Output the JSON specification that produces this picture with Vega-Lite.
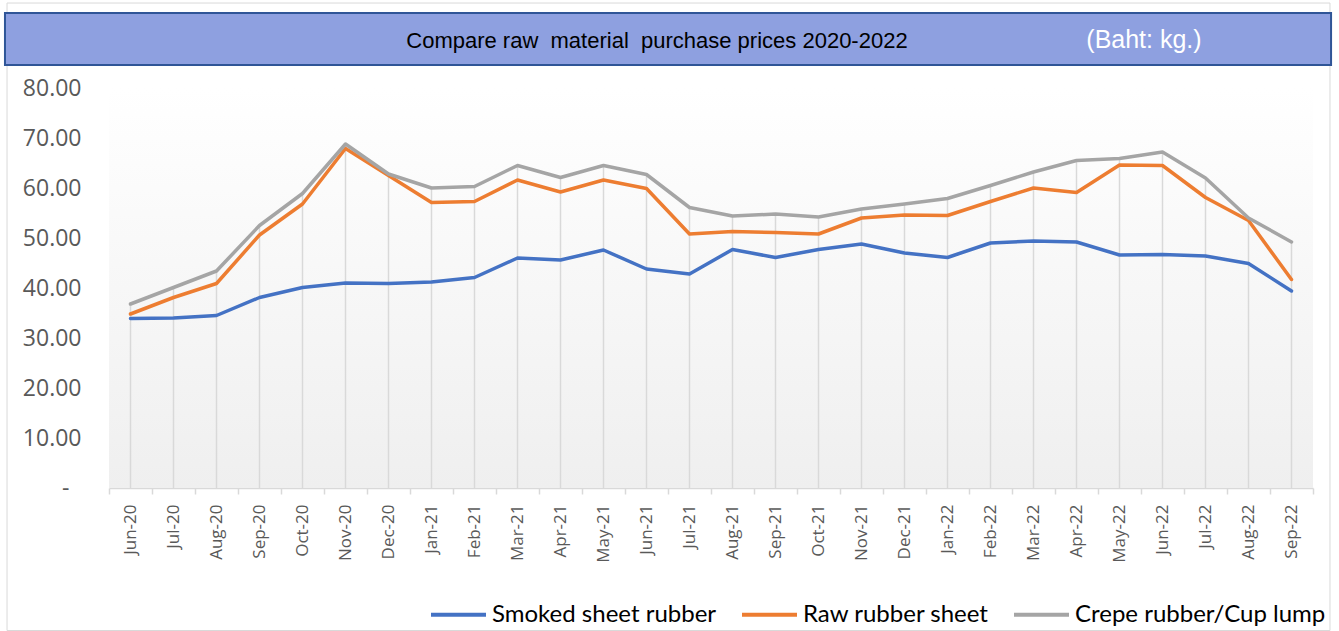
{
  "$schema": "https://vega.github.io/schema/vega-lite/v6.json",
  "padding": {"left": 3, "top": 2, "right": 0, "bottom": 0},
  "background": "white",
  "bounds": "flush",
  "spacing": 23,
  "config": {
    "view": {"stroke": null},
    "axisY": {"labelFont": "Open Sans", "labelFontSize": 23, "labelColor": "#595959", "ticks": false, "domain": false, "grid": false, "title": null, "minExtent": 104},
    "axisX": {"labelFont": "Open Sans", "labelFontSize": 17, "labelColor": "#595959", "labelAngle": 270, "domainColor": "#d9d9d9", "domainWidth": 1.5, "tickColor": "#d9d9d9", "tickSize": 6, "tickWidth": 1.5, "tickBand": "extent", "labelPadding": 10, "grid": false, "title": null},
    "legend": {"labelFont": "Lato", "labelFontSize": 24, "labelColor": "black", "labelLimit": 0, "symbolType": "stroke", "symbolStrokeWidth": 4, "symbolSize": 3025, "columnPadding": 17, "labelOffset": 4}
  },
  "vconcat": [
    {
      "width": 1204,
      "height": 52,
      "data": {"values": [{}]},
      "layer": [
        {
          "mark": {"type": "rect", "fill": null, "fillOpacity": 0, "stroke": "#d9d9d9", "strokeWidth": 1, "clip": false},
          "encoding": {
            "x": {"datum": -0.0847, "type": "quantitative", "scale": {"domain": [0, 1]}, "axis": null},
            "x2": {"datum": 1.0141},
            "y": {"datum": 1.192, "type": "quantitative", "scale": {"domain": [0, 1]}, "axis": null},
            "y2": {"datum": -10.875}
          }
        },
        {
          "mark": {"type": "rect", "fill": "#8EA0E0", "stroke": "#2F5597", "strokeWidth": 2, "clip": false},
          "encoding": {
            "x": {"datum": -0.0864, "type": "quantitative"},
            "x2": {"datum": 1.015},
            "y": {"datum": 0, "type": "quantitative"},
            "y2": {"datum": 1}
          }
        },
        {
          "mark": {"type": "text", "font": "Liberation Sans", "fontSize": 22, "color": "black", "align": "center", "baseline": "middle"},
          "encoding": {
            "x": {"datum": 0.4551, "type": "quantitative"},
            "y": {"datum": 0.46, "type": "quantitative"},
            "text": {"value": "Compare raw\u00a0 material\u00a0 purchase prices 2020-2022"}
          }
        },
        {
          "mark": {"type": "text", "font": "Liberation Sans", "fontSize": 25, "color": "white", "align": "center", "baseline": "middle"},
          "encoding": {
            "x": {"datum": 0.8596, "type": "quantitative"},
            "y": {"datum": 0.48, "type": "quantitative"},
            "text": {"value": "(Baht: kg.)"}
          }
        }
      ]
    },
    {
      "width": 1204,
      "height": 400,
      "data": {"values": [
        {"month": "Jun-20", "Smoked sheet rubber": 33.9, "Raw rubber sheet": 34.8, "Crepe rubber/Cup lump": 36.8},
        {"month": "Jul-20", "Smoked sheet rubber": 34.0, "Raw rubber sheet": 38.1, "Crepe rubber/Cup lump": 40.1},
        {"month": "Aug-20", "Smoked sheet rubber": 34.5, "Raw rubber sheet": 40.9, "Crepe rubber/Cup lump": 43.4},
        {"month": "Sep-20", "Smoked sheet rubber": 38.1, "Raw rubber sheet": 50.6, "Crepe rubber/Cup lump": 52.5},
        {"month": "Oct-20", "Smoked sheet rubber": 40.1, "Raw rubber sheet": 56.8, "Crepe rubber/Cup lump": 58.9},
        {"month": "Nov-20", "Smoked sheet rubber": 41.0, "Raw rubber sheet": 67.9, "Crepe rubber/Cup lump": 68.8},
        {"month": "Dec-20", "Smoked sheet rubber": 40.9, "Raw rubber sheet": 62.5, "Crepe rubber/Cup lump": 62.8},
        {"month": "Jan-21", "Smoked sheet rubber": 41.2, "Raw rubber sheet": 57.1, "Crepe rubber/Cup lump": 60.0},
        {"month": "Feb-21", "Smoked sheet rubber": 42.1, "Raw rubber sheet": 57.3, "Crepe rubber/Cup lump": 60.3},
        {"month": "Mar-21", "Smoked sheet rubber": 46.0, "Raw rubber sheet": 61.6, "Crepe rubber/Cup lump": 64.5},
        {"month": "Apr-21", "Smoked sheet rubber": 45.6, "Raw rubber sheet": 59.2, "Crepe rubber/Cup lump": 62.1},
        {"month": "May-21", "Smoked sheet rubber": 47.6, "Raw rubber sheet": 61.6, "Crepe rubber/Cup lump": 64.5},
        {"month": "Jun-21", "Smoked sheet rubber": 43.8, "Raw rubber sheet": 59.9, "Crepe rubber/Cup lump": 62.7},
        {"month": "Jul-21", "Smoked sheet rubber": 42.8, "Raw rubber sheet": 50.8, "Crepe rubber/Cup lump": 56.1},
        {"month": "Aug-21", "Smoked sheet rubber": 47.7, "Raw rubber sheet": 51.3, "Crepe rubber/Cup lump": 54.4},
        {"month": "Sep-21", "Smoked sheet rubber": 46.1, "Raw rubber sheet": 51.1, "Crepe rubber/Cup lump": 54.8},
        {"month": "Oct-21", "Smoked sheet rubber": 47.7, "Raw rubber sheet": 50.8, "Crepe rubber/Cup lump": 54.2},
        {"month": "Nov-21", "Smoked sheet rubber": 48.8, "Raw rubber sheet": 54.0, "Crepe rubber/Cup lump": 55.8},
        {"month": "Dec-21", "Smoked sheet rubber": 47.0, "Raw rubber sheet": 54.6, "Crepe rubber/Cup lump": 56.8},
        {"month": "Jan-22", "Smoked sheet rubber": 46.1, "Raw rubber sheet": 54.5, "Crepe rubber/Cup lump": 57.9},
        {"month": "Feb-22", "Smoked sheet rubber": 49.0, "Raw rubber sheet": 57.3, "Crepe rubber/Cup lump": 60.5},
        {"month": "Mar-22", "Smoked sheet rubber": 49.4, "Raw rubber sheet": 60.0, "Crepe rubber/Cup lump": 63.2},
        {"month": "Apr-22", "Smoked sheet rubber": 49.2, "Raw rubber sheet": 59.1, "Crepe rubber/Cup lump": 65.5},
        {"month": "May-22", "Smoked sheet rubber": 46.6, "Raw rubber sheet": 64.6, "Crepe rubber/Cup lump": 65.9},
        {"month": "Jun-22", "Smoked sheet rubber": 46.7, "Raw rubber sheet": 64.5, "Crepe rubber/Cup lump": 67.2},
        {"month": "Jul-22", "Smoked sheet rubber": 46.4, "Raw rubber sheet": 58.1, "Crepe rubber/Cup lump": 62.0},
        {"month": "Aug-22", "Smoked sheet rubber": 44.9, "Raw rubber sheet": 53.5, "Crepe rubber/Cup lump": 54.0},
        {"month": "Sep-22", "Smoked sheet rubber": 39.4, "Raw rubber sheet": 41.7, "Crepe rubber/Cup lump": 49.2}
      ]},
      "transform": [{"fold": ["Smoked sheet rubber", "Raw rubber sheet", "Crepe rubber/Cup lump"], "as": ["series", "value"]}],
      "layer": [
        {
          "mark": {"type": "rect", "fill": {"gradient": "linear", "x1": 0, "y1": 0, "x2": 0, "y2": 1, "stops": [{"offset": 0, "color": "#ffffff"}, {"offset": 1, "color": "#efefef"}]}},
          "transform": [{"filter": "datum.month == 'Jun-20' && datum.series == 'Smoked sheet rubber'"}],
          "encoding": {
            "y": {"datum": 80, "type": "quantitative", "scale": {"domain": [0, 80]}},
            "y2": {"datum": 0}
          }
        },
        {
          "mark": {"type": "rule", "color": "#d9d9d9", "strokeWidth": 1.5},
          "encoding": {
            "x": {"field": "month", "type": "nominal", "sort": null, "bandPosition": 0.5, "scale": {"type": "band", "paddingInner": 0, "paddingOuter": 0}},
            "y": {"aggregate": "max", "field": "value", "type": "quantitative"},
            "y2": {"datum": 0}
          }
        },
        {
          "mark": {"type": "line", "strokeWidth": 3.5, "strokeCap": "round", "strokeJoin": "round"},
          "encoding": {
            "x": {"field": "month", "type": "nominal", "sort": null, "bandPosition": 0.5, "scale": {"type": "band", "paddingInner": 0, "paddingOuter": 0}},
            "y": {"field": "value", "type": "quantitative", "scale": {"domain": [0, 80]}, "axis": {"values": [0, 10, 20, 30, 40, 50, 60, 70, 80], "labelPadding": {"condition": {"test": "datum.value == 0", "value": 40}, "value": 28}, "labelExpr": "datum.value == 0 ? '-' : format(datum.value, '.2f')"}},
            "color": {
              "field": "series", "type": "nominal",
              "scale": {"domain": ["Smoked sheet rubber", "Raw rubber sheet", "Crepe rubber/Cup lump"], "range": ["#4472C4", "#ED7D31", "#A5A5A5"]},
              "legend": {"orient": "none", "legendX": 320, "legendY": 572, "direction": "horizontal", "title": null}
            }
          }
        }
      ]
    }
  ]
}
